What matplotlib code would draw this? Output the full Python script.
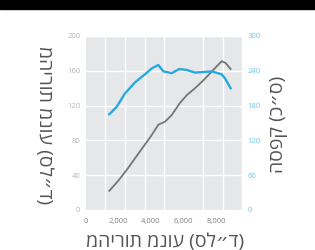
import matplotlib
matplotlib.use("Agg")
import matplotlib.pyplot as plt
from matplotlib.patches import Rectangle
import numpy as np

plt.rcParams['font.family'] = ['Open Sans', 'DejaVu Sans']

# Data
gray_x = [1435, 2000, 2500, 3000, 3500, 4000, 4450, 4860, 5270, 5780, 6200, 6710, 7220, 7830, 8350, 8590, 8900]
gray_y = [22, 34, 46, 59, 72, 85, 98, 101.5, 109, 123, 132, 140, 149, 161, 171, 169, 162]

blue_x = [1435, 1890, 2400, 3015, 3630, 4040, 4450, 4760, 5270, 5740, 6190, 6710, 7320, 7730, 8350, 8550, 8900]
blue_y = [165, 178, 201, 220, 234, 244, 250, 239, 236, 243, 241.5, 237, 238, 239, 234, 227, 210]

x_ticks = [0, 2000, 4000, 6000, 8000]
x_ticklabels = ["0", "2,000", "4,000", "6,000", "8,000"]
left_ticks = [0, 40, 80, 120, 160, 200]
right_ticks = [0, 60, 120, 180, 240, 300]

left_label = "מהירות מנוע (סל״ד)"
right_label = "הספק (כ״ס)"
x_label = "מהירות מנוע (סל״ד)"

fig = plt.figure(figsize=(3.15, 2.5), dpi=100)
fig.patches.append(Rectangle((0, 1 - 9 / 250), 1, 9 / 250, transform=fig.transFigure,
                             color='black', zorder=10))

ax = fig.add_axes([86 / 315, 40 / 250, 156 / 315, 174 / 250])
ax.set_facecolor('#e6e7e8')
ax.set_xlim(0, 9600)
ax.set_ylim(0, 200)
ax.set_xticks(x_ticks)
ax.set_xticklabels(x_ticklabels)
ax.set_xticks(np.linspace(0, 9600, 9), minor=True)
ax.set_yticks(left_ticks)
ax.grid(False)
ax.grid(True, which='minor', axis='x', color='white', linewidth=1.0)
ax.grid(True, which='major', axis='y', color='white', linewidth=1.0)
ax.set_axisbelow(True)
for s in ax.spines.values():
    s.set_visible(False)
ax.tick_params(axis='both', which='both', length=0)
ax.tick_params(axis='y', labelsize=5.5, labelcolor='#b3b3b3', pad=4)
ax.tick_params(axis='x', labelsize=5.5, labelcolor='#808080', pad=6)

ax.plot(gray_x, gray_y, color='#757575', linewidth=1.3, zorder=3)

ax2 = ax.twinx()
ax2.set_ylim(0, 300)
ax2.set_yticks(right_ticks)
for s in ax2.spines.values():
    s.set_visible(False)
ax2.tick_params(axis='y', length=0, labelsize=5.5, labelcolor='#6ec6f0', pad=4)
ax2.plot(blue_x, blue_y, color='#29a8e0', linewidth=1.7, zorder=3)

fig.text(44 / 315, 1 - 125 / 250, left_label, rotation=-90, ha='center', va='center',
         fontsize=14, color='#555555')
fig.text(279 / 315, 1 - 124 / 250, right_label, rotation=90, ha='center', va='center',
         fontsize=14, color='#555555')
fig.text(165 / 315, 1 - 233 / 250, x_label, ha='center', va='top',
         fontsize=14, color='#555555')

fig.savefig("out.png", dpi=100)
